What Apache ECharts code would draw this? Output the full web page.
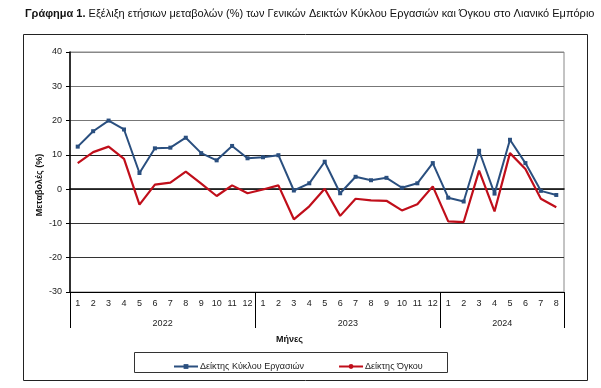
<!DOCTYPE html>
<html><head><meta charset="utf-8">
<script src="https://cdn.jsdelivr.net/npm/echarts@6/dist/echarts.min.js"></script>
<style>html,body{margin:0;padding:0;background:#fff}#c{width:601px;height:388px}</style>
</head><body><div id="c"></div>
<script>
const months = ['1','2','3','4','5','6','7','8','9','10','11','12','1','2','3','4','5','6','7','8','9','10','11','12','1','2','3','4','5','6','7','8'];
const years = ['2022','2023','2024'];
const monthsPerYear = [12,12,8];
const turnover = [12.4,16.9,20.0,17.4,4.7,11.9,12.1,15.0,10.5,8.4,12.6,9.0,9.3,9.9,-0.4,1.7,8.0,-1.2,3.6,2.6,3.3,0.4,1.7,7.6,-2.5,-3.6,11.2,-1.3,14.4,7.6,-0.5,-1.7];
const volume = [7.6,10.8,12.4,8.8,-4.5,1.3,1.9,5.1,1.6,-2.0,1.1,-1.2,-0.1,1.1,-8.8,-5.0,0.1,-7.8,-2.8,-3.3,-3.4,-6.2,-4.4,0.8,-9.4,-9.6,5.4,-6.5,10.5,5.9,-2.8,-5.3];
const seriesNames = ['Δείκτης Κύκλου Εργασιών','Δείκτης Όγκου'];
const yTicks = [-30,-20,-10,0,10,20,30,40];

const bounds = [0]; monthsPerYear.forEach(n => bounds.push(bounds[bounds.length-1]+n));
const mids = monthsPerYear.map((n,i) => bounds[i] + n/2);
const FONT = 'Liberation Sans';

const chart = echarts.init(document.getElementById('c'), null, {renderer:'canvas'});
chart.setOption({
  animation:false,
  textStyle:{fontFamily:FONT},
  title:{
    left:25, top:8, padding:0,
    text:'{b|Γράφημα 1.} Εξέλιξη ετήσιων μεταβολών (%) των Γενικών Δεικτών Κύκλου Εργασιών και Όγκου στο Λιανικό Εμπόριο',
    textStyle:{fontSize:11, fontWeight:'normal', color:'#111', fontFamily:FONT,
      rich:{b:{fontSize:11, fontWeight:'bold', color:'#111', fontFamily:FONT}}}
  },
  grid:{left:70, right:37, top:52, bottom:96, show:true, borderColor:'#888', borderWidth:1},
  legend:{
    left:168, top:357, itemWidth:24, itemHeight:6, itemGap:34,
    textStyle:{fontSize:9, color:'#222', fontFamily:FONT, padding:[0,0,0,-3]},
    data:seriesNames
  },
  graphic:[
    {type:'rect', shape:{x:23.5, y:34.5, width:564, height:346}, style:{fill:null, stroke:'#222', lineWidth:1}, silent:true, z:-1},
    {type:'rect', shape:{x:134.5, y:352.5, width:313, height:20}, style:{fill:null, stroke:'#333', lineWidth:1}, silent:true},
    {type:'text', left:276, top:335, style:{text:'Μήνες', font:'bold 9px '+FONT, fill:'#111'}},
    {type:'text', x:40, y:185, rotation:Math.PI/2, style:{text:'Μεταβολές (%)', font:'bold 9px '+FONT, fill:'#111', align:'center', verticalAlign:'middle'}}
  ],
  xAxis:[
    {type:'category', data:months, position:'bottom',
     axisLine:{lineStyle:{color:'#000', width:1.5}},
     axisTick:{interval:0, length:18, lineStyle:{color:'#000'}},
     axisLabel:{interval:0, fontSize:9, color:'#222', margin:7}},
    {type:'value', min:0, max:bounds[bounds.length-1], position:'bottom',
     axisLine:{show:false}, splitLine:{show:false},
     axisTick:{show:true, customValues:bounds, length:36, lineStyle:{color:'#000'}},
     axisLabel:{customValues:mids, fontSize:9, color:'#222', margin:27,
       formatter:(v)=>{const i=mids.indexOf(v); return i>=0?years[i]:'';}}}
  ],
  yAxis:{type:'value', min:-30, max:40, interval:10,
    axisLine:{show:true, lineStyle:{color:'#000', width:1.5}},
    axisTick:{show:true, length:4, lineStyle:{color:'#000'}},
    axisLabel:{fontSize:9, color:'#222', margin:8},
    splitLine:{lineStyle:{color:['#000','#333','#333','#888','#222','#777','#777','#888'], width:1}}
  },
  series:[
    {name:seriesNames[0], type:'line', xAxisIndex:0, data:turnover, symbol:'rect', symbolSize:4,
     itemStyle:{color:'#2a4f7f'}, lineStyle:{color:'#2a4f7f', width:2}},
    {name:seriesNames[1], type:'line', xAxisIndex:0, data:volume, symbol:'none',
     itemStyle:{color:'#c00e1a'}, lineStyle:{color:'#c00e1a', width:2.2}}
  ]
});
</script></body></html>
